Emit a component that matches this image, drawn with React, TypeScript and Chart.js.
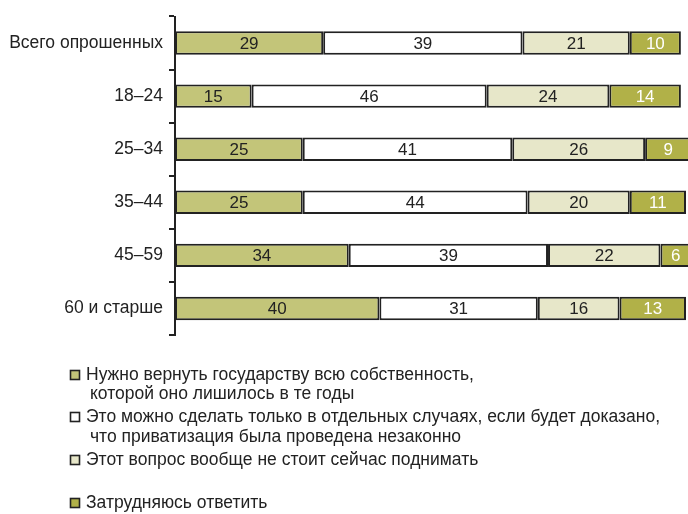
import React, { useEffect, useRef } from "react";
import { Chart, registerables } from "chart.js";

Chart.register(...registerables);

const categories = ["Всего опрошенных", "18–24", "25–34", "35–44", "45–59", "60 и старше"];
const returnAll = [29, 15, 25, 25, 34, 40];
const onlyIllegal = [39, 46, 41, 44, 39, 31];
const dontRaise = [21, 24, 26, 20, 22, 16];
const hardToSay = [10, 14, 9, 11, 6, 13];

const seriesLabels = [
  "Нужно вернуть государству всю собственность,\nкоторой оно лишилось в те годы",
  "Это можно сделать только в отдельных случаях, если будет доказано,\nчто приватизация была проведена незаконно",
  "Этот вопрос вообще не стоит сейчас поднимать",
  "Затрудняюсь ответить",
];
const seriesColors = ["#c3c579", "#ffffff", "#e7e7c9", "#b1b148"];
const valueColors = ["#222222", "#222222", "#222222", "#ffffff"];

const FONT = '"Liberation Sans", Arial, Helvetica, sans-serif';

const valueLabelPlugin = {
  id: "valueLabels",
  afterDatasetsDraw(chart: any) {
    const ctx = chart.ctx;
    ctx.save();
    ctx.font = `17px ${FONT}`;
    ctx.textAlign = "center";
    ctx.textBaseline = "middle";
    chart.data.datasets.forEach((ds: any, di: number) => {
      const meta = chart.getDatasetMeta(di);
      meta.data.forEach((el: any, i: number) => {
        const cx = (el.x + el.base) / 2;
        ctx.fillStyle = valueColors[di];
        ctx.fillText(String(ds.data[i]), cx, el.y + 1);
      });
    });
    ctx.restore();
  },
};

const legendPlugin = {
  id: "customLegend",
  afterDraw(chart: any) {
    const ctx = chart.ctx;
    const lineYs = [[375, 394], [417, 437], [460], [503]];
    ctx.save();
    ctx.font = `17.5px ${FONT}`;
    ctx.textBaseline = "middle";
    ctx.textAlign = "left";
    chart.data.datasets.forEach((ds: any, di: number) => {
      const lines = String(ds.label).split("\n");
      const ys = lineYs[di];
      ctx.fillStyle = ds.backgroundColor;
      ctx.fillRect(70.5, ys[0] - 4.5, 9, 9);
      ctx.strokeStyle = "#222";
      ctx.lineWidth = 1.6;
      ctx.strokeRect(70.5, ys[0] - 4.5, 9, 9);
      ctx.fillStyle = "#222";
      lines.forEach((ln: string, li: number) => {
        ctx.fillText(ln, li === 0 ? 86 : 90, ys[li]);
      });
    });
    ctx.restore();
  },
};

export default function App() {
  const ref = useRef<HTMLCanvasElement | null>(null);
  useEffect(() => {
    if (!ref.current) return;
    const seriesData = [returnAll, onlyIllegal, dontRaise, hardToSay];
    const chart = new Chart(ref.current, {
      type: "bar",
      data: {
        labels: categories,
        datasets: seriesData.map((d, i) => ({
          label: seriesLabels[i],
          data: d,
          backgroundColor: seriesColors[i],
          borderColor: "#222222",
          borderWidth: 2,
          borderSkipped: false,
          categoryPercentage: 1,
          barPercentage: 0.44,
          clip: false as any,
        })),
      },
      options: {
        indexAxis: "y",
        responsive: false,
        animation: false,
        layout: { padding: { top: 12, bottom: 179, left: 0, right: 2 } },
        plugins: { legend: { display: false }, tooltip: { enabled: false } },
        scales: {
          x: { stacked: true, display: false, min: 0, max: 100 },
          y: {
            stacked: true,
            grid: {
              offset: true,
              drawOnChartArea: false,
              drawTicks: true,
              tickLength: 6,
              color: "#222222",
              lineWidth: 2,
            },
            border: { display: true, color: "#222222", width: 2 },
            ticks: { color: "#222222", font: { size: 17.5, family: FONT }, padding: 6 },
            afterFit: (s: any) => {
              s.width = 175;
            },
          },
        },
      },
      plugins: [valueLabelPlugin, legendPlugin],
    });
    return () => chart.destroy();
  }, []);
  return (
    <div style={{ position: "absolute", left: 0, top: 0, width: 688, height: 514, background: "#fff" }}>
      <canvas ref={ref} width={688} height={514} />
    </div>
  );
}
